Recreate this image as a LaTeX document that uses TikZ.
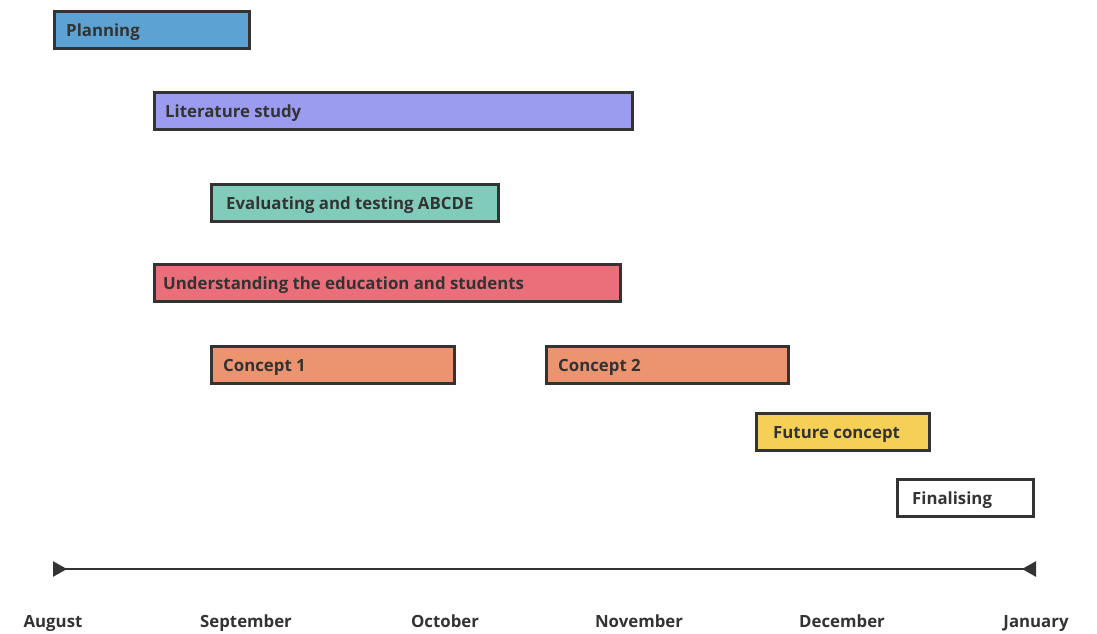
\documentclass[tikz,border=0pt]{standalone}
\usepackage{fontspec}
\setmainfont{Open Sans}
\usetikzlibrary{arrows.meta}
\definecolor{ink}{HTML}{333333}
\definecolor{cPlan}{HTML}{5CA3D3}
\definecolor{cLit}{HTML}{9B9BEF}
\definecolor{cEval}{HTML}{80CBB9}
\definecolor{cUnd}{HTML}{EA6F7A}
\definecolor{cConc}{HTML}{EC9470}
\definecolor{cFut}{HTML}{F6D056}
\tikzset{
  bar/.style={draw=ink, line width=3pt, minimum height=37pt, inner sep=0pt, outer sep=0pt, anchor=north west},
  lbl/.style={text=ink, font=\fontsize{16.8}{18}\selectfont\bfseries, inner sep=0pt, anchor=base west},
  month/.style={text=ink, font=\fontsize{16.8}{18}\selectfont\bfseries, inner sep=0pt, anchor=base},
}
\begin{document}
\begin{tikzpicture}[x=1pt, y=-1pt]
\useasboundingbox (0,0) rectangle (1097,634);

% task bars
\node[bar, fill=cPlan, minimum width=195pt] (plan) at (54.5,11.5) {};
\node[lbl] (planT) at (66,36.5) {Planning};

\node[bar, fill=cLit, minimum width=478pt] (lit) at (154.5,92.5) {};
\node[lbl] (litT) at (165,117) {Literature study};

\node[bar, fill=cEval, minimum width=287pt] (eval) at (211.5,184.5) {};
\node[lbl] (evalT) at (226,209) {Evaluating and testing ABCDE};

\node[bar, fill=cUnd, minimum width=466pt] (und) at (154.5,264.5) {};
\node[lbl] (undT) at (163,289) {Understanding the education and students};

\node[bar, fill=cConc, minimum width=243pt] (conA) at (211.5,346.5) {};
\node[lbl] (conAT) at (223,371) {Concept 1};

\node[bar, fill=cConc, minimum width=242pt] (conB) at (546.5,346.5) {};
\node[lbl] (conBT) at (558,371) {Concept 2};

\node[bar, fill=cFut, minimum width=173pt] (fut) at (756.5,413.5) {};
\node[lbl] (futT) at (773,438) {Future concept};

\node[bar, fill=white, minimum width=136pt] (fin) at (897.5,479.5) {};
\node[lbl] (finT) at (912,504) {Finalising};

% time axis
\coordinate (tl) at (53,569);
\coordinate (tr) at (1036,569);
\draw[ink, line width=2.5pt, {Triangle[reversed, length=14pt, width=15pt]}-{Triangle[reversed, length=14pt, width=15pt]}] (tl) -- (tr);

% month labels
\node[month] (aug) at (53,627) {August};
\node[month] (sep) at (246,627) {September};
\node[month] (oct) at (445,627) {October};
\node[month] (nov) at (639,627) {November};
\node[month] (dec) at (842,627) {December};
\node[month] (jan) at (1036,627) {January};
\end{tikzpicture}
\end{document}
